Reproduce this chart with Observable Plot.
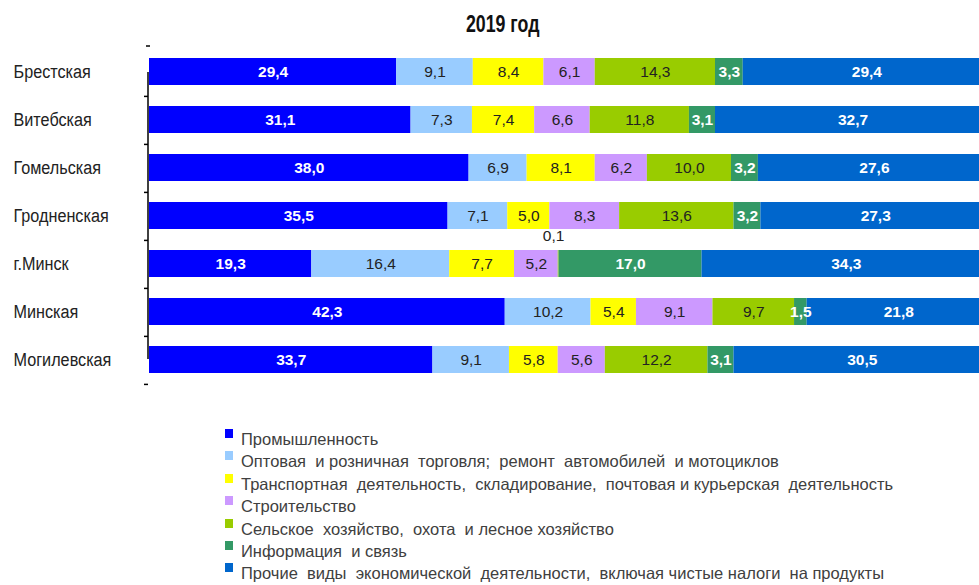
<!DOCTYPE html>
<html><head><meta charset="utf-8">
<script src="https://cdn.jsdelivr.net/npm/d3@7"></script>
<script src="https://cdn.jsdelivr.net/npm/@observablehq/plot@0.6"></script>
<style>
body{margin:0;background:#fff;}
#wrap{position:relative;width:979px;height:585px;overflow:hidden;font-family:"Liberation Sans",Arial,sans-serif;}
#title{position:absolute;left:0;width:1005px;top:12px;line-height:24px;text-align:center;font-weight:bold;font-size:24px;color:#111;}
#title span{display:inline-block;transform:scaleX(0.74);}
#chart{position:absolute;left:0;top:0;}
#legend{position:absolute;left:225px;top:428px;}
.li{position:relative;height:22.4px;line-height:22.4px;font-size:16.5px;color:#404040;white-space:pre;}
.li .tx{display:inline-block;margin-left:16px;}
.sw{position:absolute;left:0;top:1px;width:8px;height:9px;}
</style></head>
<body>
<div id="wrap">
  <div id="chart"></div>
  <div id="title"><span>2019 год</span></div>
  <div id="legend"></div>
</div>
<script>
const regions = ["Брестская","Витебская","Гомельская","Гродненская","г.Минск","Минская","Могилевская"];
const sectors = [
  "Промышленность",
  "Оптовая  и розничная  торговля;  ремонт  автомобилей  и мотоциклов",
  "Транспортная  деятельность,  складирование,  почтовая и курьерская  деятельность",
  "Строительство",
  "Сельское  хозяйство,  охота  и лесное хозяйство",
  "Информация  и связь",
  "Прочие  виды  экономической  деятельности,  включая чистые налоги  на продукты"
];
const colors = ["#0000FF","#99CCFF","#FFFF00","#CC99FF","#99CC00","#339966","#0066CC"];
const darkSectors = [0, 5, 6];

const industry     = [29.4, 31.1, 38.0, 35.5, 19.3, 42.3, 33.7];
const trade        = [9.1, 7.3, 6.9, 7.1, 16.4, 10.2, 9.1];
const transport    = [8.4, 7.4, 8.1, 5.0, 7.7, 5.4, 5.8];
const construction = [6.1, 6.6, 6.2, 8.3, 5.2, 9.1, 5.6];
const agriculture  = [14.3, 11.8, 10.0, 13.6, 0.1, 9.7, 12.2];
const ict          = [3.3, 3.1, 3.2, 3.2, 17.0, 1.5, 3.1];
const other        = [29.4, 32.7, 27.6, 27.3, 34.3, 21.8, 30.5];

const series = [industry, trade, transport, construction, agriculture, ict, other];
const table = [];
series.forEach((vals, si) => vals.forEach((v, ri) => table.push({region: regions[ri], sector: sectors[si], si, value: v})));

const fmt = v => d3.format(".1f")(v).replace(".", ",");
const tiny = d => d.value < 1;

const stackOpts = (extra) => Plot.stackX({x: "value", y: "region", order: null, ...extra});

const chart = Plot.plot({
  width: 979,
  height: 400,
  marginLeft: 149,
  marginRight: 0,
  marginTop: 45,
  marginBottom: 15,
  style: {fontFamily: "'Liberation Sans',Arial,sans-serif", fontSize: "16px", background: "#fff", overflow: "hidden"},
  x: {domain: [0, 100], range: [149, 990], axis: null},
  y: {domain: regions, range: [45.7, 385.2], paddingInner: 0.436, paddingOuter: 0.2, axis: null},
  color: {domain: sectors, range: colors},
  marks: [
    Plot.barX(table, stackOpts({fill: "sector"})),
    Plot.text(table, stackOpts({
      text: d => darkSectors.includes(d.si) ? fmt(d.value) : null,
      fill: "white", fontWeight: "bold", fontSize: 15.5
    })),
    Plot.text(table, stackOpts({
      text: d => !darkSectors.includes(d.si) && !tiny(d) ? fmt(d.value) : null,
      fill: "#222", fontSize: 15.5
    })),
    Plot.text(table, stackOpts({
      text: d => tiny(d) ? fmt(d.value) : null,
      fill: "#222", fontSize: 15.5, dy: -28, dx: -5
    })),
    // axis line between first and last band centers
    Plot.ruleX([0], {y1: () => regions[0], y2: () => regions[regions.length - 1], dx: -1.5, insetTop: 14, insetBottom: 14, stroke: "#000", strokeWidth: 1.5}),
    // tick marks at band boundaries
    Plot.axisY({label: null, tickSize: 4, tickFormat: null, dy: 24.4, dx: -1, stroke: "#000", strokeWidth: 1.5}),
    Plot.axisY({label: null, ticks: [regions[0]], tickSize: 4, tickFormat: null, dy: -26, dx: 1, stroke: "#000", strokeWidth: 1.5}),
    // region labels
    Plot.axisY({label: null, tickSize: 0, tickPadding: 3, textAnchor: "start", dx: -133, fontSize: 18, fill: "#222"})
  ]
});
document.getElementById("chart").appendChild(chart);

// condensed look for region labels, like the original's narrow font
chart.querySelectorAll("g[aria-label='y-axis tick label'] text").forEach(t => {
  const len = t.getComputedTextLength();
  if (len > 0) {
    t.setAttribute("textLength", (len * 0.9).toFixed(1));
    t.setAttribute("lengthAdjust", "spacingAndGlyphs");
  }
});

const legend = document.getElementById("legend");
sectors.forEach((s, i) => {
  const row = document.createElement("div");
  row.className = "li";
  const sw = document.createElement("span");
  sw.className = "sw";
  sw.style.background = colors[i];
  row.appendChild(sw);
  const tx = document.createElement("span");
  tx.className = "tx";
  tx.textContent = s;
  row.appendChild(tx);
  legend.appendChild(row);
});
</script>
</body></html>
